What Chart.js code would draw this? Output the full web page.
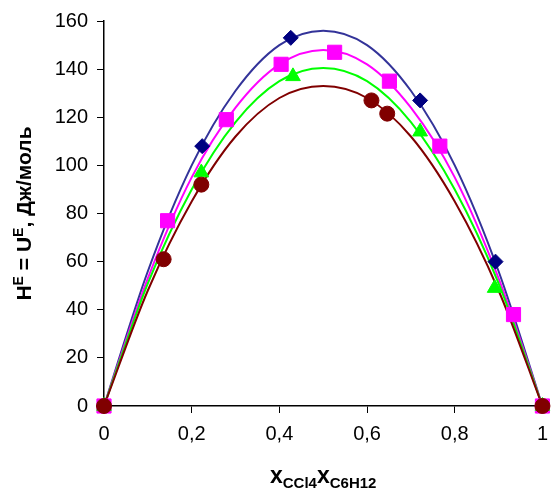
<!DOCTYPE html>
<html>
<head>
<meta charset="utf-8">
<script src="https://cdn.jsdelivr.net/npm/chart.js@4/dist/chart.umd.min.js"></script>
<style>
  html, body { margin: 0; padding: 0; background: #fff; }
  #wrap { width: 557px; height: 495px; position: relative; }
</style>
</head>
<body>
<div id="wrap"><canvas id="he"></canvas></div>
<script>
// measured points (markers)
const navyX = [0, 0.224, 0.426, 0.721, 0.893, 1];
const navyY = [0, 108, 153, 127, 60, 0];
const pinkX = [0, 0.145, 0.279, 0.404, 0.526, 0.651, 0.766, 0.934, 1];
const pinkY = [0, 77, 119, 142, 147, 135, 108, 38, 0];
const greenX = [0, 0.222, 0.431, 0.721, 0.891, 1];
const greenY = [0, 97, 137, 114, 49, 0];
const redX = [0, 0.136, 0.222, 0.61, 0.646, 1];
const redY = [0, 61, 92, 127, 121.5, 0];

// fitted curves
const curveX = [0, 0.1, 0.2, 0.3, 0.4, 0.5, 0.6, 0.7, 0.8, 0.9, 1];
const navyCurve = [0, 56, 100, 131, 150, 156, 150, 131, 100, 56, 0];
const pinkCurve = [0, 53, 95, 124, 142, 148, 142, 124, 95, 53, 0];
const greenCurve = [0, 51, 90, 118, 135, 140.5, 135, 118, 90, 51, 0];
const redCurve = [0, 48, 85, 112, 128, 133, 128, 112, 85, 48, 0];

const xTicks = [0, 0.2, 0.4, 0.6, 0.8, 1];
const yTicks = [0, 20, 40, 60, 80, 100, 120, 140, 160];

function colors() {
  return {
    navy: "rgba(0, 0, 128, 1)",
    navyLine: "rgba(51, 51, 153, 1)",
    magenta: "rgba(255, 0, 255, 1)",
    green: "rgba(0, 255, 0, 1)",
    maroon: "rgba(128, 0, 0, 1)",
    black: "rgba(0, 0, 0, 1)",
  };
}

function pts(xs, ys) {
  return xs.map((x, i) => ({ x: x, y: ys[i] }));
}

function curve(xs, ys, color, order) {
  return {
    data: pts(xs, ys),
    showLine: true,
    borderColor: color,
    borderWidth: 2,
    pointRadius: 0,
    cubicInterpolationMode: "monotone",
    order: order,
  };
}

function markers(xs, ys, color, style, radius, order) {
  return {
    data: pts(xs, ys),
    showLine: false,
    pointStyle: style,
    pointRadius: radius,
    backgroundColor: color,
    borderColor: color,
    borderWidth: 1,
    order: order,
  };
}

const c = colors();

// axis titles with super/subscripts
const axisTitles = {
  id: "axisTitles",
  afterDraw: (chart) => {
    const ctx = chart.ctx;
    const area = chart.chartArea;
    const fam = "'Liberation Sans', Arial, sans-serif";

    // y title, rotated
    const parts = [
      { t: "H", s: 21, dy: 0 },
      { t: "E", s: 14, dy: -8 },
      { t: " = U", s: 21, dy: 0 },
      { t: "E", s: 14, dy: -8 },
      { t: ", Дж/моль", s: 21, dy: 0 },
    ];
    ctx.save();
    let w = 0;
    parts.forEach((p) => {
      ctx.font = "bold " + p.s + "px " + fam;
      w += ctx.measureText(p.t).width;
    });
    ctx.translate(31, (area.top + area.bottom) / 2);
    ctx.rotate(-Math.PI / 2);
    ctx.fillStyle = c.black;
    ctx.textBaseline = "alphabetic";
    let x = -w / 2;
    parts.forEach((p) => {
      ctx.font = "bold " + p.s + "px " + fam;
      ctx.fillText(p.t, x, p.dy);
      x += ctx.measureText(p.t).width;
    });
    ctx.restore();

    // x title
    const xp = [
      { t: "x", s: 23, dy: 0 },
      { t: "CCl4", s: 15, dy: 5 },
      { t: "x", s: 23, dy: 0 },
      { t: "C6H12", s: 15, dy: 5 },
    ];
    ctx.save();
    w = 0;
    xp.forEach((p) => {
      ctx.font = "bold " + p.s + "px " + fam;
      w += ctx.measureText(p.t).width;
    });
    ctx.fillStyle = c.black;
    x = (area.left + area.right) / 2 - w / 2;
    xp.forEach((p) => {
      ctx.font = "bold " + p.s + "px " + fam;
      ctx.fillText(p.t, x, 483 + p.dy);
      x += ctx.measureText(p.t).width;
    });
    ctx.restore();
  },
};

const config = {
  type: "scatter",
  data: {
    datasets: [
      curve(curveX, navyCurve, c.navyLine, 8),
      curve(curveX, pinkCurve, c.magenta, 7),
      curve(curveX, greenCurve, c.green, 6),
      curve(curveX, redCurve, c.maroon, 5),
      markers(navyX, navyY, c.navy, "rectRot", 7.5, 4),
      markers(pinkX, pinkY, c.magenta, "rect", 10, 3),
      markers(greenX, greenY, c.green, "triangle", 8.5, 2),
      markers(redX, redY, c.maroon, "circle", 7.5, 1),
    ],
  },
  options: {
    responsive: true,
    maintainAspectRatio: false,
    animation: false,
    clip: false,
    layout: { padding: { left: 0, right: 10, top: 16, bottom: 0 } },
    plugins: { legend: { display: false }, tooltip: { enabled: false } },
    scales: {
      x: {
        type: "linear",
        min: 0,
        max: 1,
        afterFit: (scale) => { scale.height = 89; },
        afterBuildTicks: (scale) => { scale.ticks = xTicks.map((v) => ({ value: v })); },
        border: { display: true, color: c.black, width: 1.5 },
        grid: { drawOnChartArea: false, drawTicks: true, tickLength: 7, tickColor: c.black, tickWidth: 1 },
        ticks: {
          color: c.black,
          padding: 9,
          maxRotation: 0,
          font: { family: "'Liberation Sans', Arial, sans-serif", size: 20 },
          callback: (v) => String(v).replace(".", ","),
        },
      },
      y: {
        type: "linear",
        min: 0,
        max: 160,
        afterFit: (scale) => { scale.width = 104; },
        afterBuildTicks: (scale) => { scale.ticks = yTicks.map((v) => ({ value: v })); },
        border: { display: true, color: c.black, width: 1.5 },
        grid: { drawOnChartArea: false, drawTicks: true, tickLength: 7, tickColor: c.black, tickWidth: 1 },
        ticks: {
          color: c.black,
          padding: 9,
          font: { family: "'Liberation Sans', Arial, sans-serif", size: 20 },
        },
      },
    },
  },
  plugins: [axisTitles],
};

new Chart(document.getElementById("he"), config);
</script>
</body>
</html>
